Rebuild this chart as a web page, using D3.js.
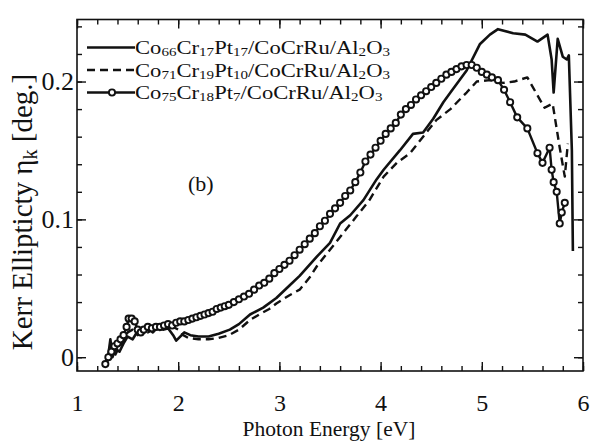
<!DOCTYPE html>
<html>
<head>
<meta charset="utf-8">
<script src="https://cdn.jsdelivr.net/npm/d3@7"></script>
<style>
  html, body { margin: 0; padding: 0; background: #fff; }
  svg { display: block; }
  text { font-family: "Liberation Serif", "Times New Roman", serif; fill: #111; }
</style>
</head>
<body>
<svg id="chart" width="592" height="442"></svg>
<script>
// ---------------- data ----------------
const xTicks = [1, 2, 3, 4, 5, 6];
const yTicks = [0, 0.1, 0.2];
const yTickLabels = ["0", "0.1", "0.2"];
const xTitle = "Photon Energy [eV]";
const yTitle = "Kerr Ellipticty \u03B7_{k} [deg.]";
const panelLabel = "(b)";
const legendLabels = [
  "Co_{66}Cr_{17}Pt_{17}/CoCrRu/Al_{2}O_{3}",
  "Co_{71}Cr_{19}Pt_{10}/CoCrRu/Al_{2}O_{3}",
  "Co_{75}Cr_{18}Pt_{7}/CoCrRu/Al_{2}O_{3}"
];

// Co66Cr17Pt17 (solid)
const solidE = [1.28,1.31,1.33,1.35,1.38,1.42,1.46,1.50,1.55,1.60,1.65,1.70,1.75,1.80,1.85,1.90,1.95,1.98,2.02,2.06,2.12,2.20,2.30,2.40,2.51,2.60,2.71,2.84,2.97,3.10,3.20,3.37,3.50,3.60,3.70,3.83,3.96,4.03,4.19,4.32,4.42,4.52,4.62,4.69,4.85,4.98,5.08,5.16,5.31,5.43,5.55,5.65,5.69,5.71,5.75,5.80,5.84,5.86,5.89,5.90];
const solidK = [-0.004,0.002,0.013,0.0,0.006,0.004,0.010,0.015,0.013,0.019,0.017,0.021,0.018,0.022,0.020,0.021,0.016,0.012,0.015,0.018,0.016,0.015,0.015,0.017,0.020,0.024,0.031,0.036,0.043,0.052,0.059,0.073,0.083,0.097,0.103,0.114,0.129,0.136,0.150,0.162,0.163,0.173,0.185,0.192,0.208,0.227,0.234,0.238,0.235,0.234,0.229,0.234,0.216,0.192,0.231,0.218,0.216,0.219,0.150,0.077];

// Co71Cr19Pt10 (dashed)
const dashE = [1.30,1.34,1.38,1.42,1.46,1.50,1.55,1.60,1.65,1.70,1.75,1.80,1.85,1.90,1.95,2.00,2.05,2.10,2.20,2.30,2.40,2.50,2.60,2.71,2.80,2.90,2.97,3.10,3.20,3.30,3.37,3.50,3.63,3.76,3.89,4.03,4.16,4.29,4.42,4.55,4.69,4.85,4.95,5.08,5.21,5.32,5.45,5.55,5.62,5.70,5.77,5.82,5.85];
const dashK = [-0.003,0.004,0.002,0.008,0.012,0.018,0.020,0.016,0.019,0.018,0.020,0.019,0.021,0.020,0.022,0.020,0.016,0.014,0.013,0.013,0.014,0.016,0.020,0.027,0.031,0.035,0.039,0.045,0.049,0.058,0.066,0.078,0.090,0.102,0.114,0.131,0.141,0.148,0.160,0.172,0.180,0.192,0.200,0.201,0.199,0.200,0.203,0.190,0.181,0.184,0.152,0.131,0.155];

// Co75Cr18Pt7 (line with open circles)
const circE = [1.28,1.31,1.34,1.37,1.40,1.43,1.46,1.49,1.51,1.54,1.57,1.60,1.63,1.66,1.70,1.74,1.78,1.82,1.86,1.90,1.94,1.98,2.02,2.06,2.10,2.14,2.18,2.22,2.26,2.30,2.34,2.38,2.42,2.46,2.50,2.55,2.60,2.65,2.70,2.75,2.80,2.85,2.90,2.95,3.00,3.05,3.10,3.15,3.20,3.25,3.30,3.35,3.40,3.45,3.50,3.55,3.60,3.65,3.70,3.75,3.80,3.85,3.90,3.95,4.00,4.05,4.10,4.15,4.20,4.25,4.30,4.35,4.40,4.45,4.50,4.55,4.60,4.65,4.70,4.75,4.80,4.85,4.90,4.95,5.00,5.05,5.10,5.16,5.22,5.28,5.35,5.45,5.55,5.60,5.67,5.69,5.71,5.74,5.77,5.79,5.82];
const circK = [-0.005,0.000,0.004,0.008,0.010,0.013,0.016,0.022,0.028,0.028,0.026,0.020,0.018,0.020,0.022,0.021,0.022,0.022,0.023,0.024,0.023,0.025,0.026,0.026,0.027,0.028,0.029,0.030,0.031,0.032,0.033,0.035,0.036,0.037,0.038,0.040,0.042,0.044,0.046,0.049,0.052,0.054,0.057,0.061,0.064,0.067,0.070,0.074,0.078,0.082,0.086,0.090,0.095,0.099,0.104,0.108,0.112,0.117,0.121,0.127,0.134,0.142,0.147,0.152,0.157,0.162,0.166,0.170,0.176,0.180,0.183,0.187,0.190,0.193,0.196,0.199,0.202,0.205,0.207,0.209,0.211,0.212,0.212,0.210,0.207,0.205,0.203,0.201,0.194,0.185,0.174,0.166,0.148,0.141,0.152,0.136,0.127,0.120,0.097,0.105,0.112];

// ---------------- drawing ----------------
const svg = d3.select("#chart");
const L = 77, R = 583, T = 19.5, B = 371;
const x = d3.scaleLinear().domain([1, 6]).range([L, R]);
const y = d3.scaleLinear().domain([-0.01, 0.245]).range([B, T]);

const xMinor = d3.range(1, 6.001, 0.2).map(v => +v.toFixed(2));
const yMinor = d3.range(0, 0.2401, 0.02).map(v => +v.toFixed(3));

const axisColor = "#111";
function styleAxis(g) {
  g.select(".domain").remove();
  g.selectAll(".tick line").attr("stroke", axisColor).attr("stroke-width", 1.4);
}

// minor ticks on all four sides (inward)
svg.append("g").attr("transform", `translate(0,${B})`)
  .call(d3.axisBottom(x).tickValues(xMinor).tickSize(-5).tickFormat(""))
  .call(styleAxis);
svg.append("g").attr("transform", `translate(0,${T})`)
  .call(d3.axisTop(x).tickValues(xMinor).tickSize(-5).tickFormat(""))
  .call(styleAxis);
svg.append("g").attr("transform", `translate(${L},0)`)
  .call(d3.axisLeft(y).tickValues(yMinor).tickSize(-5).tickFormat(""))
  .call(styleAxis);
svg.append("g").attr("transform", `translate(${R},0)`)
  .call(d3.axisRight(y).tickValues(yMinor).tickSize(-5).tickFormat(""))
  .call(styleAxis);

// major ticks with labels
const gx = svg.append("g").attr("transform", `translate(0,${B})`)
  .call(d3.axisBottom(x).tickValues(xTicks).tickSize(-9).tickPadding(23).tickFormat(d3.format("d")))
  .call(styleAxis);
gx.selectAll("text").attr("font-size", 24).attr("fill", "#111")
  .attr("font-family", "Liberation Serif");
const gy = svg.append("g").attr("transform", `translate(${L},0)`)
  .call(d3.axisLeft(y).tickValues(yTicks).tickSize(-9).tickPadding(3)
        .tickFormat((d, i) => yTickLabels[i]))
  .call(styleAxis);
gy.selectAll("text").attr("font-size", 26).attr("fill", "#111")
  .attr("font-family", "Liberation Serif");
svg.append("g").attr("transform", `translate(0,${T})`)
  .call(d3.axisTop(x).tickValues(xTicks).tickSize(-9).tickFormat(""))
  .call(styleAxis);
svg.append("g").attr("transform", `translate(${R},0)`)
  .call(d3.axisRight(y).tickValues(yTicks).tickSize(-9).tickFormat(""))
  .call(styleAxis);

// frame
svg.append("rect").attr("x", L).attr("y", T).attr("width", R - L).attr("height", B - T)
  .attr("fill", "none").attr("stroke", axisColor).attr("stroke-width", 1.6);

// series
const line = d3.line().x(d => x(d[0])).y(d => y(d[1]));
const solid = solidE.map((e, i) => [e, solidK[i]]);
const dashed = dashE.map((e, i) => [e, dashK[i]]);
const circ = circE.map((e, i) => [e, circK[i]]);

svg.append("path").datum(dashed).attr("d", line)
  .attr("fill", "none").attr("stroke", "#111").attr("stroke-width", 2.4)
  .attr("stroke-dasharray", "8,5").attr("stroke-linejoin", "round");
svg.append("path").datum(solid).attr("d", line)
  .attr("fill", "none").attr("stroke", "#111").attr("stroke-width", 2.6)
  .attr("stroke-linejoin", "round");
svg.append("path").datum(circ).attr("d", line)
  .attr("fill", "none").attr("stroke", "#111").attr("stroke-width", 2.4)
  .attr("stroke-linejoin", "round");
svg.append("g").selectAll("circle").data(circ).join("circle")
  .attr("cx", d => x(d[0])).attr("cy", d => y(d[1])).attr("r", 3.1)
  .attr("fill", "#fff").attr("stroke", "#111").attr("stroke-width", 1.9);

// rich text helper for subscripts
function richText(sel, str, size, subSize, shift) {
  const parts = str.split(/(_\{[^}]*\})/).filter(s => s.length);
  let lowered = false;
  parts.forEach(p => {
    if (p.startsWith("_{")) {
      sel.append("tspan").text(p.slice(2, -1)).attr("font-size", subSize).attr("dy", shift);
      lowered = true;
    } else {
      const t = sel.append("tspan").text(p).attr("font-size", size);
      if (lowered) { t.attr("dy", -shift); lowered = false; }
    }
  });
}

// legend
const legY = [47.5, 70, 92.5];
const legStyles = [
  { dash: null, circle: false },
  { dash: "8,5", circle: false },
  { dash: null, circle: true }
];
legendLabels.forEach((lab, i) => {
  const g = svg.append("g");
  g.append("line").attr("x1", 87).attr("x2", 135).attr("y1", legY[i]).attr("y2", legY[i])
    .attr("stroke", "#111").attr("stroke-width", 2.4)
    .attr("stroke-dasharray", legStyles[i].dash);
  if (legStyles[i].circle) {
    g.append("circle").attr("cx", 112).attr("cy", legY[i]).attr("r", 3.1)
      .attr("fill", "#fff").attr("stroke", "#111").attr("stroke-width", 1.9);
  }
  const t = g.append("text")
    .attr("transform", `translate(135,${legY[i] + 6.5}) scale(1.16,1)`);
  richText(t, lab, 19.5, 13, 2);
});

// panel label
svg.append("text").attr("x", 188).attr("y", 191).attr("font-size", 22).text(panelLabel);

// axis titles
svg.append("text").attr("x", 329).attr("y", 436).attr("text-anchor", "middle")
  .attr("font-size", 21.5).text(xTitle);
const yt = svg.append("text").attr("text-anchor", "middle")
  .attr("transform", `translate(32,${212}) rotate(-90)`);
richText(yt, yTitle, 29, 20, 5);
</script>
</body>
</html>
